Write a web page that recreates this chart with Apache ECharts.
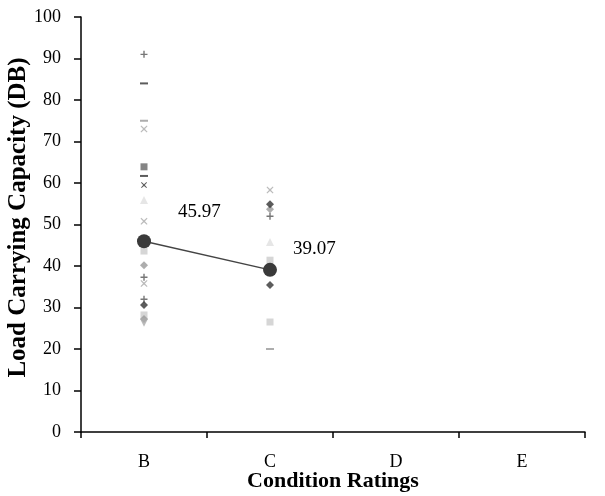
<!DOCTYPE html>
<html>
<head>
<meta charset="utf-8">
<script src="https://cdn.jsdelivr.net/npm/echarts@6/dist/echarts.min.js"></script>
<style>
  html, body { margin: 0; padding: 0; background: #fff; }
  #container { width: 605px; height: 496px; }
</style>
</head>
<body>
<div id="container"></div>
<script>
var categories = ['B', 'C', 'D', 'E'];
var meanValues = [45.97, 39.07];

// individual readings, per marker style: [B values], [C values]
var plusDarkB = [91, 37.3, 32], plusDarkC = [52];
var dashDarkB = [84, 61.7], dashDarkC = [];
var dashLightB = [75], dashLightC = [20];
var crossLightB = [73, 50.8, 35.8], crossLightC = [58.3];
var crossDarkB = [59.5], crossDarkC = [];
var squareMidB = [63.9], squareMidC = [];
var squareLightB = [43.6, 28.2], squareLightC = [41.4, 26.5];
var triLightB = [55.9], triLightC = [45.8];
var diamondGrayB = [40.2, 27.2], diamondGrayC = [53.7];
var diamondDarkB = [30.6], diamondDarkC = [54.9, 35.4];
var triDownB = [26.3], triDownC = [];

var PLUS = 'path://M4,0H6V4H10V6H6V10H4V6H0V4H4Z';
var CROSS = 'path://M1,0L5,3.6L9,0L10,1L6.4,5L10,9L9,10L5,6.4L1,10L0,9L3.6,5L0,1Z';
var DASH = 'path://M0,0H10V2.5H0Z';

function pts(b, c) {
    var out = [];
    b.forEach(function (v) { out.push(['B', v]); });
    c.forEach(function (v) { out.push(['C', v]); });
    return out;
}
function marks(b, c, symbol, size, color) {
    return {
        type: 'scatter',
        symbol: symbol,
        symbolSize: size,
        itemStyle: { color: color },
        data: pts(b, c),
        z: 2
    };
}

var dom = document.getElementById('container');
var myChart = echarts.init(dom);
var font = '"Liberation Serif", "Times New Roman", serif';

var option = {
    animation: false,
    grid: { left: 81, right: 20, top: 17, bottom: 64, outerBoundsMode: 'none', containLabel: false },
    xAxis: {
        type: 'category',
        data: categories,
        boundaryGap: true,
        name: 'Condition Ratings',
        nameLocation: 'middle',
        nameGap: 38,
        nameMoveOverlap: false,
        nameTextStyle: { fontFamily: font, fontWeight: 'bold', fontSize: 22, color: '#000' },
        axisLine: { lineStyle: { color: '#000', width: 1.5 } },
        axisTick: { show: true, length: 6, interval: 0, lineStyle: { color: '#000', width: 1.5 } },
        axisLabel: { fontFamily: font, fontSize: 18, color: '#000', margin: 21 },
        splitLine: { show: false }
    },
    yAxis: {
        type: 'value',
        min: 0,
        max: 100,
        interval: 10,
        name: 'Load Carrying Capacity (DB)',
        nameLocation: 'middle',
        nameGap: 50,
        nameMoveOverlap: false,
        nameTextStyle: { fontFamily: font, fontWeight: 'bold', fontSize: 25, color: '#000', padding: [0, 0, 0, 14] },
        axisLine: { show: true, lineStyle: { color: '#000', width: 1.5 } },
        axisTick: { show: true, length: 7, lineStyle: { color: '#000', width: 1.5 } },
        axisLabel: { fontFamily: font, fontSize: 18, color: '#000', margin: 20 },
        splitLine: { show: false }
    },
    series: [
        marks(plusDarkB, plusDarkC, PLUS, 7, '#555'),
        marks(dashDarkB, dashDarkC, DASH, [8, 2], '#333'),
        marks(dashLightB, dashLightC, DASH, [8, 2], '#999'),
        marks(crossLightB, crossLightC, CROSS, 7, '#aaa'),
        marks(crossDarkB, crossDarkC, CROSS, 6, '#333'),
        marks(squareMidB, squareMidC, 'rect', 7, '#666'),
        marks(squareLightB, squareLightC, 'rect', 7, '#ccc'),
        marks(triLightB, triLightC, 'triangle', 8, '#e0e0e0'),
        marks(diamondGrayB, diamondGrayC, 'diamond', 8, '#999'),
        marks(diamondDarkB, diamondDarkC, 'diamond', 8, '#333'),
        marks(triDownB, triDownC, 'path://M0,0H10L5,8Z', 8, '#aaa'),
        {
            type: 'line',
            data: meanValues.map(function (v, i) {
                return {
                    value: v,
                    label: {
                        show: true,
                        position: 'right',
                        offset: i === 0 ? [22, -29] : [11, -21],
                        formatter: function (p) { return p.value.toFixed(2); },
                        fontFamily: font,
                        fontSize: 19,
                        color: '#000'
                    }
                };
            }),
            symbol: 'circle',
            symbolSize: 14,
            itemStyle: { color: '#3a3a3a' },
            lineStyle: { color: '#444', width: 1.5 },
            z: 5
        }
    ]
};
myChart.setOption(option, true);
</script>
</body>
</html>
